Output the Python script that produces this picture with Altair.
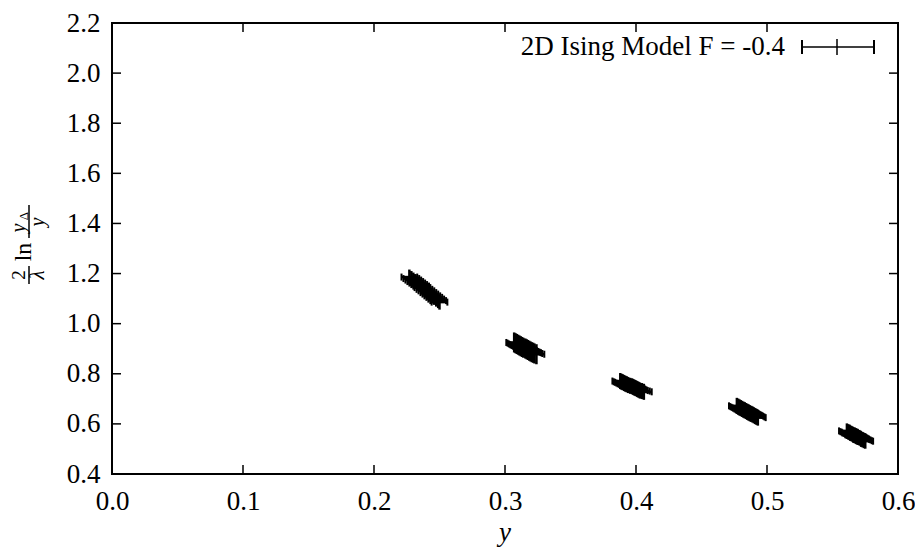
import altair as alt
import pandas as pd

# ---- data ----
c1_x = [0.227, 0.2285, 0.230, 0.2315, 0.233, 0.2345, 0.236, 0.237, 0.2385, 0.240, 0.2415, 0.243, 0.2445, 0.246, 0.2475, 0.249, 0.250]
c1_y = [1.186, 1.180, 1.174, 1.168, 1.162, 1.156, 1.150, 1.144, 1.137, 1.131, 1.124, 1.118, 1.111, 1.105, 1.098, 1.092, 1.086]
c2_x = [0.307, 0.308, 0.309, 0.310, 0.311, 0.312, 0.313, 0.314, 0.3155, 0.3165, 0.3175, 0.3185, 0.3195, 0.3205, 0.3215, 0.3225, 0.324]
c2_y = [0.925, 0.922, 0.919, 0.916, 0.913, 0.910, 0.907, 0.904, 0.901, 0.898, 0.895, 0.892, 0.889, 0.886, 0.884, 0.881, 0.878]
c3_x = [0.388, 0.389, 0.390, 0.391, 0.392, 0.393, 0.394, 0.3955, 0.397, 0.398, 0.399, 0.400, 0.401, 0.402, 0.403, 0.4045, 0.406]
c3_y = [0.771, 0.768, 0.766, 0.763, 0.760, 0.758, 0.755, 0.752, 0.750, 0.747, 0.744, 0.742, 0.739, 0.736, 0.733, 0.731, 0.728]
c4_x = [0.477, 0.478, 0.479, 0.480, 0.481, 0.482, 0.483, 0.484, 0.485, 0.486, 0.487, 0.488, 0.489, 0.490, 0.491, 0.492, 0.493]
c4_y = [0.672, 0.669, 0.666, 0.663, 0.660, 0.657, 0.654, 0.651, 0.648, 0.645, 0.642, 0.640, 0.637, 0.634, 0.631, 0.628, 0.625]
c5_x = [0.561, 0.562, 0.563, 0.5635, 0.5645, 0.5655, 0.566, 0.567, 0.568, 0.569, 0.5695, 0.5705, 0.5715, 0.572, 0.573, 0.574, 0.575]
c5_y = [0.572, 0.569, 0.567, 0.564, 0.562, 0.559, 0.556, 0.554, 0.551, 0.549, 0.546, 0.544, 0.541, 0.538, 0.536, 0.533, 0.531]
x_err = [0.006, 0.006, 0.006, 0.006, 0.006]
y_err = [0.030, 0.040, 0.032, 0.032, 0.030]

x_ticks = [0.0, 0.1, 0.2, 0.3, 0.4, 0.5, 0.6]
y_ticks = [0.4, 0.6, 0.8, 1.0, 1.2, 1.4, 1.6, 1.8, 2.0, 2.2]
legend_label = "2D Ising Model F = -0.4"

clusters = [(c1_x, c1_y), (c2_x, c2_y), (c3_x, c3_y), (c4_x, c4_y), (c5_x, c5_y)]
rows = []
for (cx, cy), dx, dy in zip(clusters, x_err, y_err):
    for a, b in zip(cx, cy):
        rows.append({"x": a, "y": b, "dx": dx, "dy": dy})
df = pd.DataFrame(rows)

W, H = 786, 451
FONT = "Liberation Serif"
SW = 2.5

xs = alt.Scale(domain=[0, 0.6], nice=False, zero=False)
ys = alt.Scale(domain=[0.4, 2.2], nice=False, zero=False)

xaxis = alt.Axis(values=x_ticks, format=".1f", labelFont=FONT, labelFontSize=27,
                 labelColor="black", ticks=False, domain=False, grid=False,
                 labelPadding=14, labelFlush=False, labelOverlap=False, title=None)
yaxis = alt.Axis(values=y_ticks, format=".1f", labelFont=FONT, labelFontSize=27,
                 labelColor="black", ticks=False, domain=False, grid=False,
                 labelPadding=12, labelFlush=False, labelOverlap=False, title=None)

base = alt.Chart(df).transform_calculate(
    xlo="datum.x - datum.dx", xhi="datum.x + datum.dx",
    ylo="datum.y - datum.dy", yhi="datum.y + datum.dy")

hbar = base.mark_rule(color="black", strokeWidth=SW).encode(
    x=alt.X("xlo:Q", scale=xs, axis=xaxis), x2="xhi:Q",
    y=alt.Y("y:Q", scale=ys, axis=yaxis))
vbar = base.mark_rule(color="black", strokeWidth=SW).encode(
    x=alt.X("x:Q", scale=xs), y=alt.Y("ylo:Q", scale=ys), y2="yhi:Q")

def sym(xf, yf, shape, size):
    return base.mark_point(shape=shape, size=size, filled=False, color="black",
                           strokeWidth=2, opacity=1).encode(
        x=alt.X(xf, scale=xs), y=alt.Y(yf, scale=ys))

vcap = "M0,-1L0,1"
caps = [sym("xlo:Q", "y:Q", vcap, 49), sym("xhi:Q", "y:Q", vcap, 49)]

# inward ticks (mirrored on all sides)
tx = alt.Chart(pd.DataFrame({"t": x_ticks}))
ty = alt.Chart(pd.DataFrame({"t": y_ticks}))
TL = 9
ticks = [
    tx.mark_rule(color="black", strokeWidth=1.5).encode(x=alt.X("t:Q", scale=xs), y=alt.value(H), y2=alt.value(H - TL)),
    tx.mark_rule(color="black", strokeWidth=1.5).encode(x=alt.X("t:Q", scale=xs), y=alt.value(0), y2=alt.value(TL)),
    ty.mark_rule(color="black", strokeWidth=1.5).encode(y=alt.Y("t:Q", scale=ys), x=alt.value(0), x2=alt.value(TL)),
    ty.mark_rule(color="black", strokeWidth=1.5).encode(y=alt.Y("t:Q", scale=ys), x=alt.value(W - TL), x2=alt.value(W)),
]

one = alt.Chart(pd.DataFrame({"k": [0]}))
ly = 24
legend = [
    one.mark_text(font=FONT, fontSize=27, align="right", baseline="middle", color="black").encode(
        x=alt.value(673), y=alt.value(ly), text=alt.value(legend_label)),
    one.mark_rule(color="black", strokeWidth=1.5).encode(x=alt.value(690), x2=alt.value(762), y=alt.value(ly)),
    one.mark_rule(color="black", strokeWidth=2).encode(x=alt.value(690), y=alt.value(ly - 7), y2=alt.value(ly + 7)),
    one.mark_rule(color="black", strokeWidth=2).encode(x=alt.value(762), y=alt.value(ly - 7), y2=alt.value(ly + 7)),
    one.mark_rule(color="black", strokeWidth=1.5).encode(x=alt.value(725), y=alt.value(ly - 8), y2=alt.value(ly + 8)),
]

# axis titles built from text pieces
def txt(s, x, y, size, style="normal", angle=270):
    return one.mark_text(font=FONT, fontSize=size, fontStyle=style, align="center",
                         baseline="middle", angle=angle, color="black").encode(
        x=alt.value(x), y=alt.value(y), text=alt.value(s))

ytitle = [
    txt("2", -93, 252, 19),
    one.mark_rule(color="black", strokeWidth=1.5).encode(x=alt.value(-83), y=alt.value(243), y2=alt.value(261)),
    txt("λ", -74, 252, 21, "italic"),
    txt("ln", -88, 229, 24),
    txt("y", -93, 205, 20, "italic"),
    txt("Δ", -88, 193, 13),
    one.mark_rule(color="black", strokeWidth=1.5).encode(x=alt.value(-83), y=alt.value(182), y2=alt.value(215)),
    txt("y", -74, 199, 20, "italic"),
]
xtitle = [txt("y", W / 2, H + 59, 27, "italic", 0)]

chart = alt.layer(hbar, vbar, *caps, *ticks, *legend, *ytitle, *xtitle).properties(
    width=W, height=H,
    autosize=alt.AutoSizeParams(type="none"),
    padding={"left": 104, "top": 15, "right": 17, "bottom": 76},
).configure_view(stroke="black", strokeWidth=2)

chart.save("out.html", embed_options={"renderer": "svg", "actions": False})
